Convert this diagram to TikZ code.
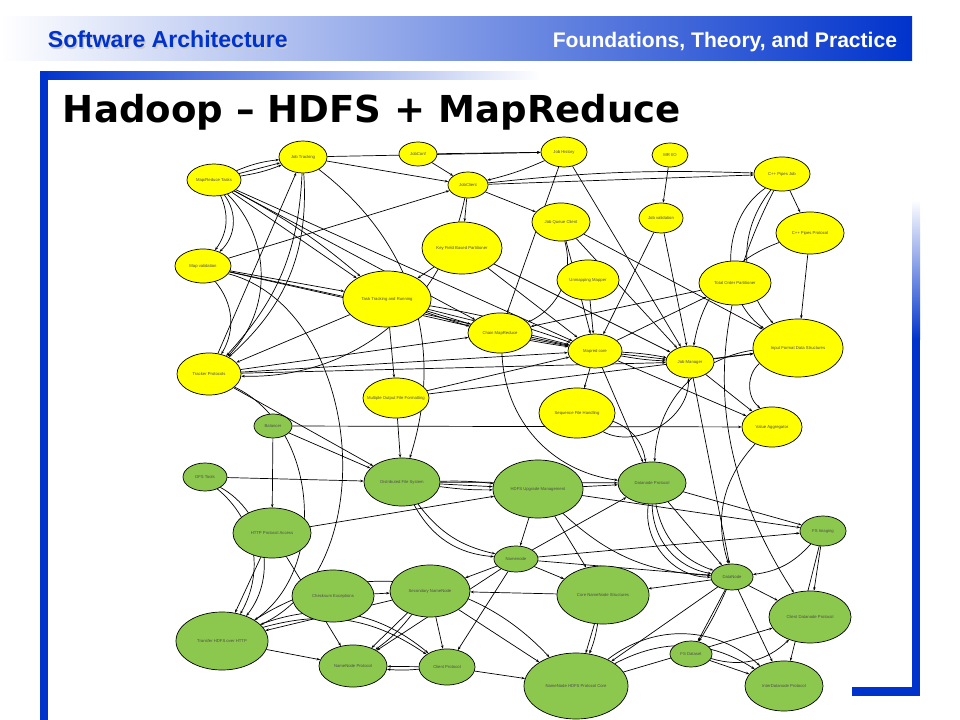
\documentclass[tikz,border=0pt]{standalone}
\usepackage{fontspec}
\setmainfont{Liberation Sans}
\newfontfamily\verdana{DejaVu Sans}
\usetikzlibrary{shapes.geometric,arrows.meta,backgrounds}
\definecolor{slideblue}{RGB}{0,51,204}
\definecolor{mrfill}{RGB}{255,255,0}
\definecolor{hdfsfill}{RGB}{141,200,78}
\tikzset{
  mrbub/.style={ellipse,draw,fill=mrfill,inner sep=0pt,line width=0.5pt},
  hdfsbub/.style={mrbub,fill=hdfsfill},
  sz/.style 2 args={minimum width=#1*0.05cm,minimum height=#2*0.05cm},
  lbl/.style={font=\fontsize{3}{3.5}\selectfont,text=black!70,inner sep=0pt},
  link/.style={-{Stealth[length=2.5pt,width=1.8pt]},line width=0.5pt},
}
\begin{document}
\begin{tikzpicture}[x=0.025cm,y=-0.025cm]
\useasboundingbox (0,0) rectangle (960,720);

% slide header and frame
\shade[left color=white,middle color=slideblue!45,right color=slideblue] (0,17) rectangle (912,61);
\node[anchor=base west,text=black!20,font=\bfseries\fontsize{16.4}{18}\selectfont] (hdshadow) at (44.3,49.3) {Software Architecture};
\node[anchor=base west,text=slideblue,font=\bfseries\fontsize{16.4}{18}\selectfont] (hdleft) at (43,48) {Software Architecture};
\node[anchor=base east,text=white,font=\bfseries\fontsize{15}{18}\selectfont] (hdright) at (902,48) {Foundations, Theory, and Practice};
\shade[left color=slideblue,right color=white] (40,72) rectangle (540,80);
\fill[slideblue] (40,72) rectangle (48,720);
\shade[top color=white,bottom color=slideblue] (912,200) rectangle (920,340);
\fill[slideblue] (912,339) rectangle (920,696);
\fill[slideblue] (852,687) rectangle (920,696);
\node[anchor=base west,font=\verdana\bfseries\fontsize{26.4}{30}\selectfont] (title) at (58,123) {Hadoop – HDFS + MapReduce};

% MapReduce components
\node[mrbub,sz={24}{16},label={[lbl]center:Job Tracking}] (jt) at (303,157) {};
\node[mrbub,sz={19}{12},label={[lbl]center:JobConf}] (jconf) at (418,154) {};
\node[mrbub,sz={23}{15},label={[lbl]center:Job History}] (jhist) at (564,152) {};
\node[mrbub,sz={18}{12},label={[lbl]center:MR I/O}] (mrio) at (670,155) {};
\node[mrbub,sz={27}{16},label={[lbl]center:Map/Reduce Tasks}] (mrt) at (214,180) {};
\node[mrbub,sz={20}{13},label={[lbl]center:JobClient}] (jcli) at (468,185) {};
\node[mrbub,sz={28}{17},label={[lbl]center:C++ Pipes Job}] (ppjob) at (782,174) {};
\node[mrbub,sz={29}{19},label={[lbl]center:Job Queue Client}] (jqc) at (561,222) {};
\node[mrbub,sz={22}{15},label={[lbl]center:Job validation}] (jval) at (661,218) {};
\node[mrbub,sz={34}{21},label={[lbl]center:C++ Pipes Protocol}] (ppproto) at (810,233) {};
\node[mrbub,sz={40}{26},label={[lbl]center:Key Field Based Partitioner}] (kfbp) at (462,248) {};
\node[mrbub,sz={28}{17},label={[lbl]center:Map validation}] (mval) at (203,266) {};
\node[mrbub,sz={31}{20},label={[lbl]center:Unmapping Mapper}] (umap) at (588,280) {};
\node[mrbub,sz={36}{22},label={[lbl]center:Total Order Partitioner}] (top) at (735,283) {};
\node[mrbub,sz={44}{28},label={[lbl]center:Task Tracking and Running}] (ttr) at (387,299) {};
\node[mrbub,sz={32}{20},label={[lbl]center:Chain MapReduce}] (chain) at (500,333) {};
\node[mrbub,sz={27}{17},label={[lbl]center:Mapred core}] (mcore) at (595,351) {};
\node[mrbub,sz={24}{16},label={[lbl]center:Job Manager}] (jman) at (690,362) {};
\node[mrbub,sz={45}{29},label={[lbl]center:Input Format Data Structures}] (ifds) at (798,348) {};
\node[mrbub,sz={32}{21},label={[lbl]center:Tracker Protocols}] (tproto) at (209,374) {};
\node[mrbub,sz={33}{20},label={[lbl]center:Multiple Output File Formatting}] (mout) at (396,398) {};
\node[mrbub,sz={38}{25},label={[lbl]center:Sequence File Handling}] (seqf) at (577,413) {};
\node[mrbub,sz={30}{20},label={[lbl]center:Value Aggregator}] (vagg) at (772,427) {};

% HDFS components
\node[hdfsbub,sz={19}{12},label={[lbl]center:Balancer}] (bal) at (273,426) {};
\node[hdfsbub,sz={22}{14},label={[lbl]center:DFS Tools}] (dfst) at (205,477) {};
\node[hdfsbub,sz={38}{24},label={[lbl]center:Distributed File System}] (dfs) at (402,482) {};
\node[hdfsbub,sz={45}{29},label={[lbl]center:HDFS Upgrade Management}] (upg) at (538,489) {};
\node[hdfsbub,sz={34}{21},label={[lbl]center:Datanode Protocol}] (dnp) at (652,483) {};
\node[hdfsbub,sz={23}{15},label={[lbl]center:FS Imaging}] (fsim) at (823,531) {};
\node[hdfsbub,sz={39}{25},label={[lbl]center:HTTP Protocol Access}] (http) at (272,533) {};
\node[hdfsbub,sz={22}{13},label={[lbl]center:Namenode}] (nn) at (516,559) {};
\node[hdfsbub,sz={21}{13},label={[lbl]center:DataNode}] (dn) at (732,577) {};
\node[hdfsbub,sz={41}{26},label={[lbl]center:Checksum Exceptions}] (cexc) at (333,596) {};
\node[hdfsbub,sz={40}{26},label={[lbl]center:Secondary NameNode}] (snn) at (430,591) {};
\node[hdfsbub,sz={46}{29},label={[lbl]center:Core NameNode Structures}] (cnns) at (603,595) {};
\node[hdfsbub,sz={41}{26},label={[lbl]center:Client Datanode Protocol}] (cdnp) at (810,617) {};
\node[hdfsbub,sz={46}{29},label={[lbl]center:Transfer HDFS over HTTP}] (thttp) at (222,641) {};
\node[hdfsbub,sz={21}{13},label={[lbl]center:FS Dataset}] (fsds) at (691,654) {};
\node[hdfsbub,sz={34}{21},label={[lbl]center:NameNode Protocol}] (nnp) at (353,666) {};
\node[hdfsbub,sz={28}{18},label={[lbl]center:Client Protocol}] (cp) at (447,667) {};
\node[hdfsbub,sz={52}{33},label={[lbl]center:NameNode HDFS Protocol Core}] (nhpc) at (576,686) {};
\node[hdfsbub,sz={39}{25},label={[lbl]center:InterDatanode Protocol}] (idnp) at (784,686) {};

\begin{pgfonlayer}{background}
% straight dependencies
\foreach \a/\b in {mrt/jt, jt/jcli, jt/jhist, jconf/jcli, jconf/jhist, jcli/ppjob, jcli/jqc,
    jcli/kfbp, jhist/jman, jhist/chain, mrio/jval, jval/mcore, jqc/jman, jqc/mcore, umap/mcore,
    ppjob/ppproto, ppproto/ifds, kfbp/ttr, kfbp/mcore, mrt/ttr, mrt/chain, mrt/mcore, mval/ttr,
    mval/chain, mval/mcore, mval/jcli, ttr/chain, ttr/mcore, ttr/mout, ttr/tproto, tproto/chain,
    tproto/mcore, tproto/jman, mout/dfs, mout/mcore, mout/ifds, chain/mcore, mcore/jman,
    mcore/vagg, mcore/seqf, mcore/top, jman/ifds, jman/vagg, top/chain, jval/jman, tproto/jt,
    tproto/dfs, bal/dfs, bal/http, bal/vagg, mcore/dnp, jman/dn, jqc/ifds, kfbp/jman}
  \draw[link] (\a) -- (\b);
\foreach \a/\b in {dfst/dfs, dfs/upg, http/upg, http/thttp, http/nnp, upg/dnp, upg/nn, upg/fsim,
    nn/dnp, nn/fsim, nn/snn, nn/cnns, nn/dn, dnp/dn, dnp/fsim, dn/cdnp, dn/fsds, dn/idnp, dn/cnns,
    dn/nhpc, fsim/cdnp, fsim/idnp, snn/thttp, snn/nnp, snn/cp, snn/nhpc, cp/nnp, cp/nhpc,
    cnns/nhpc, cnns/snn, fsds/idnp, nhpc/cdnp, thttp/nnp, cexc/snn, upg/cnns, dfs/dnp, nn/nnp, nn/cp}
  \draw[link] (\a) -- (\b);
% curved dependencies
\foreach \a/\b/\c in {mrt/jt/8, mrt/jt/-6, jcli/ppjob/4, jhist/jcli/5, jt/tproto/20, jt/tproto/26,
    mrt/mval/30, mrt/mval/42, mrt/tproto/45, mval/tproto/35, mrt/ttr/6, ttr/mcore/5, ttr/mcore/-5,
    mcore/jman/4, mcore/jman/-4, ppjob/ifds/-40, ppjob/ifds/-55, ppproto/jman/-30, ifds/vagg/-50,
    jqc/chain/40, seqf/jman/-60, jcli/tproto/40, jt/dfs/35, vagg/dn/-30, ifds/dnp/-40,
    dfst/thttp/40, dfst/thttp/50, tproto/thttp/60, mval/thttp/70, dfs/nn/-20, dfs/nn/-28,
    dfs/upg/4, dfs/upg/-4, dnp/dn/-30, dnp/dn/-40, dnp/dn/-50, dn/fsds/4, thttp/nhpc/40,
    thttp/cp/25, thttp/cp/30, cp/nnp/5, snn/nnp/8, cnns/nhpc/6, nhpc/idnp/30, nhpc/idnp/40,
    fsds/cdnp/-30, fsim/dn/20, upg/dn/-20, chain/dnp/-40, seqf/dnp/30, ppjob/cdnp/-30}
  \draw[link] (\a) to[bend left=\c] (\b);
\end{pgfonlayer}
\end{tikzpicture}
\end{document}
